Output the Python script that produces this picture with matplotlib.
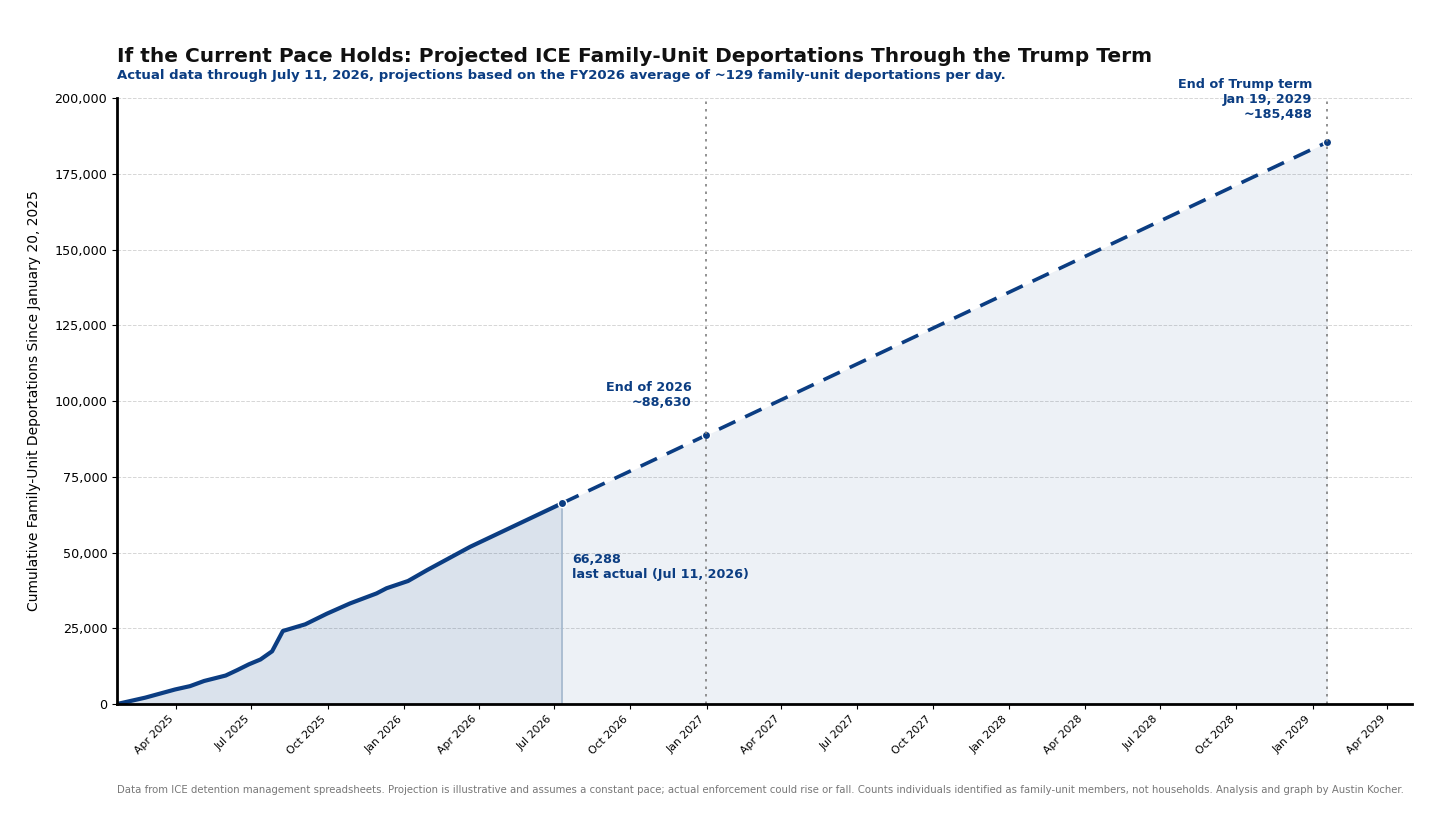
import pandas as pd
import matplotlib
matplotlib.use("Agg")
import matplotlib.pyplot as plt
import matplotlib.dates as mdates
from matplotlib.ticker import FuncFormatter

# Actual cumulative family-unit deportations
actual_dates = [
    "2025-01-20", "2025-02-23", "2025-03-31", "2025-04-18", "2025-05-05",
    "2025-05-31", "2025-06-14", "2025-06-28", "2025-07-12", "2025-07-26",
    "2025-08-08", "2025-09-04", "2025-09-30", "2025-10-28", "2025-11-29",
    "2025-12-11", "2026-01-06", "2026-01-29", "2026-03-22", "2026-07-11",
]
actual_values = [
    0, 2100, 4800, 5900, 7600,
    9400, 11200, 13100, 14700, 17400,
    24100, 26300, 29800, 33200, 36500,
    38200, 40600, 44200, 51900, 66288,
]

# Projection at the FY2026 pace
proj_dates = ["2026-07-11", "2026-12-31", "2029-01-19"]
proj_values = [66288, 88630, 185488]

blue = "#0b3d82"

actual_dates = pd.to_datetime(actual_dates)
proj_dates = pd.to_datetime(proj_dates)

fig = plt.figure(figsize=(14.56, 8.19), dpi=100)
ax = fig.add_axes([0.0804, 0.1404, 0.8894, 0.7399])

ax.fill_between(actual_dates, actual_values, color=blue, alpha=0.15, lw=0)
ax.fill_between(proj_dates, proj_values, color=blue, alpha=0.07, lw=0)
ax.plot(actual_dates, actual_values, color=blue, lw=3, solid_capstyle="round")
ax.plot(proj_dates, proj_values, color=blue, lw=2.6, ls=(0, (5, 3)))
ax.vlines(proj_dates[0], 0, proj_values[0], color="#a8bbd0", lw=1.3)
ax.plot(proj_dates, proj_values, "o", color=blue, ms=6, mec="white", mew=1)

ax.axvline(proj_dates[1], color="#808080", ls=(0, (1.5, 3)), lw=1.2)
ax.axvline(proj_dates[2], color="#808080", ls=(0, (1.5, 3)), lw=1.2)

ax.annotate(f"{proj_values[0]:,}\nlast actual (Jul 11, 2026)",
            (proj_dates[0], proj_values[0]), xytext=(7, -36),
            textcoords="offset points", ha="left", va="top",
            color=blue, fontsize=9.2, fontweight="bold")
ax.annotate(f"End of 2026\n~{proj_values[1]:,}",
            (proj_dates[1], proj_values[1]), xytext=(-10, 19),
            textcoords="offset points", ha="right", va="bottom",
            color=blue, fontsize=9.2, fontweight="bold")
ax.annotate(f"End of Trump term\nJan 19, 2029\n~{proj_values[2]:,}",
            (proj_dates[2], proj_values[2]), xytext=(-11, 15),
            textcoords="offset points", ha="right", va="bottom",
            color=blue, fontsize=9.2, fontweight="bold")

ax.set_xlim(actual_dates[0], proj_dates[2] + pd.Timedelta(days=102))
ax.set_ylim(0, 200000)
ax.yaxis.set_major_formatter(FuncFormatter(lambda v, p: f"{int(v):,}"))
ax.set_yticks(range(0, 200001, 25000))
ax.xaxis.set_major_locator(mdates.MonthLocator(bymonth=[1, 4, 7, 10]))
ax.xaxis.set_major_formatter(mdates.DateFormatter("%b %Y"))
for lab in ax.get_xticklabels():
    lab.set_rotation(45)
    lab.set_ha("right")
ax.tick_params(axis="x", labelsize=7.8)
ax.tick_params(axis="y", labelsize=9.2)
ax.grid(axis="y", color="#cccccc", ls="--", lw=0.7, alpha=0.8)
ax.set_axisbelow(True)

for s in ["top", "right"]:
    ax.spines[s].set_visible(False)
ax.spines["left"].set_linewidth(2)
ax.spines["bottom"].set_linewidth(2)

ax.set_ylabel("Cumulative Family-Unit Deportations Since January 20, 2025",
              fontsize=10, labelpad=10)

fig.text(0.0804, 0.9316,
         "If the Current Pace Holds: Projected ICE Family-Unit Deportations Through the Trump Term",
         fontsize=14.5, fontweight="bold", color="#111111", va="center")
fig.text(0.0804, 0.9084,
         "Actual data through July 11, 2026, projections based on the FY2026 average of ~129 family-unit deportations per day.",
         fontsize=9.5, fontweight="bold", color=blue, va="center")
fig.text(0.0804, 0.0354,
         "Data from ICE detention management spreadsheets. Projection is illustrative and assumes a constant pace; "
         "actual enforcement could rise or fall. Counts individuals identified as family-unit members, not households. "
         "Analysis and graph by Austin Kocher.",
         fontsize=7.3, color="#777777", va="center")

fig.savefig("out.png", dpi=100)
